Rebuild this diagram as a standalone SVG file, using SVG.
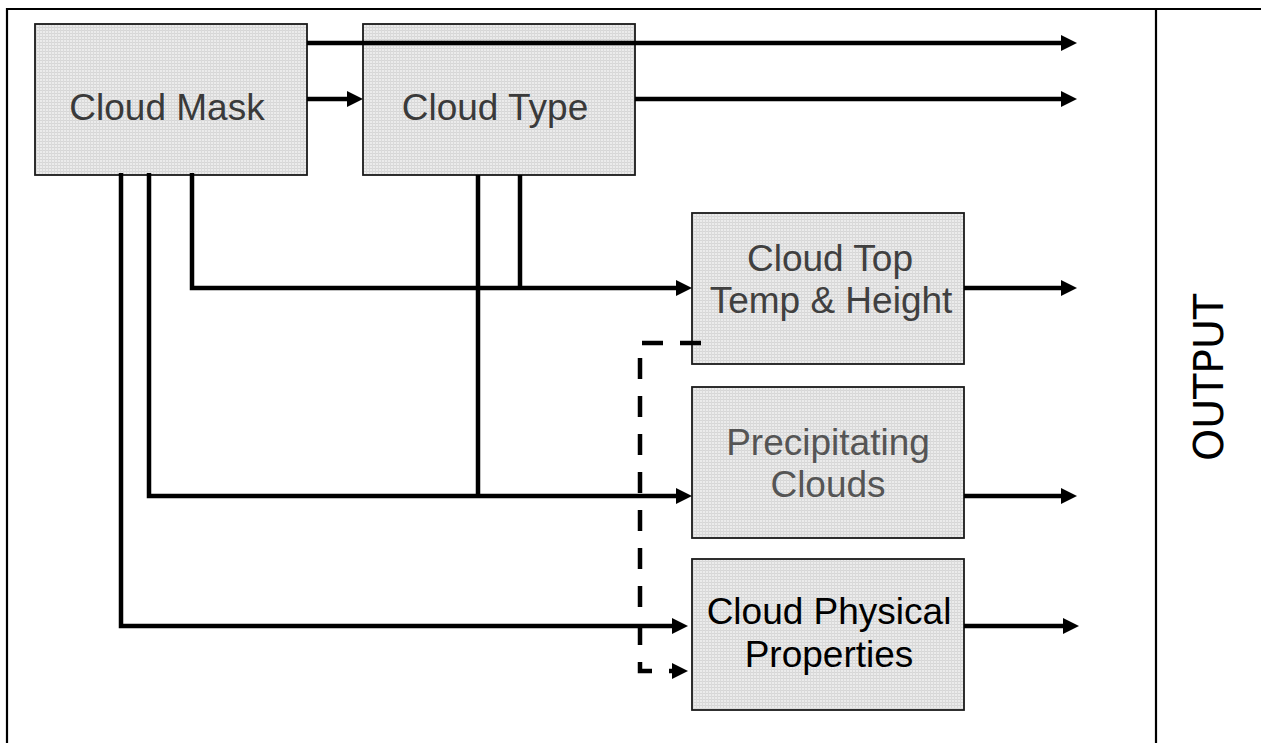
<svg xmlns="http://www.w3.org/2000/svg" width="1261" height="743" viewBox="0 0 1261 743">
<style>
.frame{stroke:#000;stroke-width:2.2;fill:none}
.box{fill:url(#grid);stroke:#1a1a1a;stroke-width:1.8}
.lbl{font-family:"Liberation Sans",Arial,sans-serif;font-size:37px;text-anchor:middle}
.conn{fill:none;stroke:#000;stroke-width:4.5;stroke-linejoin:miter}
.arr{marker-end:url(#ah)}
.dash{stroke-dasharray:21 17}
</style>
<defs>
<pattern id="grid" width="3" height="3" patternUnits="userSpaceOnUse">
<rect width="3" height="3" fill="#ebebeb"/>
<rect width="3" height="1" fill="#d6d6d6"/>
<rect width="1" height="3" fill="#dadada"/>
</pattern>
<marker id="ah" markerUnits="userSpaceOnUse" markerWidth="16" markerHeight="16" refX="4" refY="8" orient="auto" viewBox="0 0 16 16">
<path d="M0,0 L16,8 L0,16 Z" fill="#000"/>
</marker>
</defs>
<rect width="1261" height="743" fill="#fff"/>
<g id="frame">
<path class="frame" d="M7,743 V9 H1261"/>
<path class="frame" d="M1156,9 V743"/>
</g>
<g id="cloud-mask">
<rect class="box" x="35" y="24" width="272" height="151"/>
<text class="lbl" x="167" y="120" fill="#3a3a3a">Cloud Mask</text>
</g>
<g id="cloud-type">
<rect class="box" x="363" y="24" width="272" height="151"/>
<text class="lbl" x="495" y="120" fill="#3a3a3a">Cloud Type</text>
</g>
<g id="cloud-top">
<rect class="box" x="692" y="213" width="272" height="151"/>
<text class="lbl" x="830" y="271" fill="#404040">Cloud Top</text>
<text class="lbl" x="831" y="313" fill="#404040">Temp &amp; Height</text>
</g>
<g id="precipitating">
<rect class="box" x="692" y="387" width="272" height="151"/>
<text class="lbl" x="828" y="455" fill="#555">Precipitating</text>
<text class="lbl" x="828" y="497" fill="#555">Clouds</text>
</g>
<g id="cloud-physical">
<rect class="box" x="692" y="559" width="272" height="151"/>
<text class="lbl" x="829" y="624" fill="#000">Cloud Physical</text>
<text class="lbl" x="829" y="667" fill="#000">Properties</text>
</g>
<g id="output">
<text x="0" y="0" transform="translate(1223,377.5) rotate(-90)" font-family="'DejaVu Sans',Verdana,sans-serif" font-size="41" text-anchor="middle" fill="#000">OUTPUT</text>
</g>
<g id="connectors">
<path class="conn arr" d="M307,43 H1065"/>
<path class="conn arr" d="M307,99 H351"/>
<path class="conn arr" d="M635,99 H1065"/>
<path class="conn arr" d="M192,173 V288 H680"/>
<path class="conn" d="M520,175 V288"/>
<path class="conn arr" d="M964,288 H1065"/>
<path class="conn arr" d="M149,173 V496 H680"/>
<path class="conn" d="M478,175 V496"/>
<path class="conn arr" d="M964,496 H1065"/>
<path class="conn arr" d="M121,173 V626 H676"/>
<path class="conn arr" d="M964,626 H1067"/>
<path class="conn dash arr" d="M701,343 H640 V671 H676"/>
</g>
</svg>
